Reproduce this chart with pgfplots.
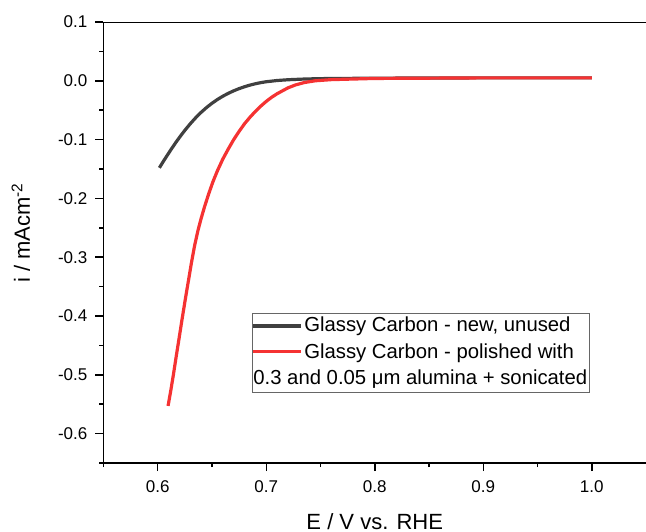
\documentclass[border=0pt]{standalone}
\usepackage{pgfplots}
\pgfplotsset{compat=1.18}
\usepackage{fontspec}
\setmainfont{Liberation Sans}
\definecolor{cgray}{RGB}{64,64,64}
\definecolor{cred}{RGB}{245,50,50}
\begin{document}
\begin{tikzpicture}
\useasboundingbox (-103.5bp,-69bp) rectangle (542.5bp,463bp);
\begin{axis}[
  at={(0,0)}, anchor=south west,
  scale only axis, width=542.5bp, height=441bp,
  xmin=0.55, xmax=1.05, ymin=-0.65, ymax=0.1,
  axis x line*=bottom, axis y line*=left,
  axis line style={-, line width=1.5bp, black},
  tick style={line width=1.5bp, black},
  tick align=outside,
  major tick length=8bp, minor tick length=4bp,
  xtick={0.6,0.7,0.8,0.9,1.0},
  xticklabels={0.6,0.7,0.8,0.9,1.0},
  minor xtick={0.55,0.65,0.75,0.85,0.95},
  ytick={-0.6,-0.5,-0.4,-0.3,-0.2,-0.1,0.0,0.1},
  yticklabels={-0.6,-0.5,-0.4,-0.3,-0.2,-0.1,0.0,0.1},
  minor ytick={-0.65,-0.55,-0.45,-0.35,-0.25,-0.15,-0.05,0.05},
  tick label style={font=\fontsize{17bp}{19bp}\selectfont},
  xticklabel style={anchor=base, yshift=-21bp},
  yticklabel style={anchor=east, inner sep=0pt, xshift=-8bp},
  xlabel={E / V vs. RHE},
  ylabel={i / mAcm\textsuperscript{-2}},
  x label style={at={(axis description cs:0.5,0)}, anchor=base, yshift=-66bp, text depth=0pt, font=\fontsize{22bp}{26bp}\selectfont},
  y label style={at={(axis description cs:-0.1355,0.5215)}, anchor=base, font=\fontsize{22bp}{26bp}\selectfont},
]
\draw[line width=1.5bp] (rel axis cs:0,1) -- (rel axis cs:1,1);
\addplot[cgray, line width=3.2bp] coordinates {
(0.6015,-0.148) (0.605,-0.1375) (0.609,-0.126) (0.613,-0.1148)
(0.617,-0.104) (0.621,-0.0938) (0.625,-0.0842) (0.630,-0.0730)
(0.635,-0.0628) (0.640,-0.0536) (0.645,-0.0454) (0.650,-0.0382)
(0.655,-0.0318) (0.660,-0.0262) (0.665,-0.0213) (0.670,-0.0170)
(0.675,-0.0133) (0.680,-0.0101) (0.685,-0.0073) (0.690,-0.0050)
(0.695,-0.0031) (0.700,-0.0016) (0.710,0.0005) (0.720,0.0018)
(0.735,0.0030) (0.750,0.0037) (0.80,0.0045) (0.90,0.005) (1.00,0.005)
};
\addplot[cred, line width=3.2bp] coordinates {
(0.6095,-0.553) (0.612,-0.527) (0.6145,-0.499) (0.617,-0.469)
(0.620,-0.434) (0.6222,-0.408) (0.625,-0.376) (0.628,-0.343)
(0.631,-0.310) (0.634,-0.280) (0.637,-0.255) (0.640,-0.234)
(0.643,-0.215) (0.647,-0.192) (0.651,-0.171) (0.655,-0.153)
(0.660,-0.133) (0.665,-0.116) (0.670,-0.100) (0.675,-0.086)
(0.680,-0.073) (0.685,-0.062) (0.690,-0.052) (0.695,-0.043)
(0.700,-0.035) (0.705,-0.028) (0.710,-0.022) (0.715,-0.017)
(0.720,-0.012) (0.727,-0.007) (0.735,-0.003) (0.745,0.000)
(0.760,0.002) (0.780,0.003) (0.800,0.004) (0.850,0.0045)
(0.900,0.005) (1.000,0.005)
};
\node[at={(rel axis cs:0.2737,0.340)}, anchor=north west, draw=black!60,
  line width=0.8bp, fill=white, inner sep=0pt,
  font=\fontsize{20.3bp}{26.3bp}\selectfont] {%
  \begin{tabular}{@{\hspace{0.4bp}}l@{\hspace{3.5bp}}l@{\hspace{2bp}}}
  \textcolor{cgray}{\rule[4.25bp]{48bp}{3.5bp}} & Glassy Carbon - new, unused\\
  \textcolor{cred}{\rule[5bp]{48bp}{2.8bp}} & Glassy Carbon - polished with\\
  \multicolumn{2}{@{\hspace{1bp}}l@{\hspace{2bp}}}{0.3 and 0.05 μm alumina + sonicated}
  \end{tabular}};
\end{axis}
\end{tikzpicture}
\end{document}
